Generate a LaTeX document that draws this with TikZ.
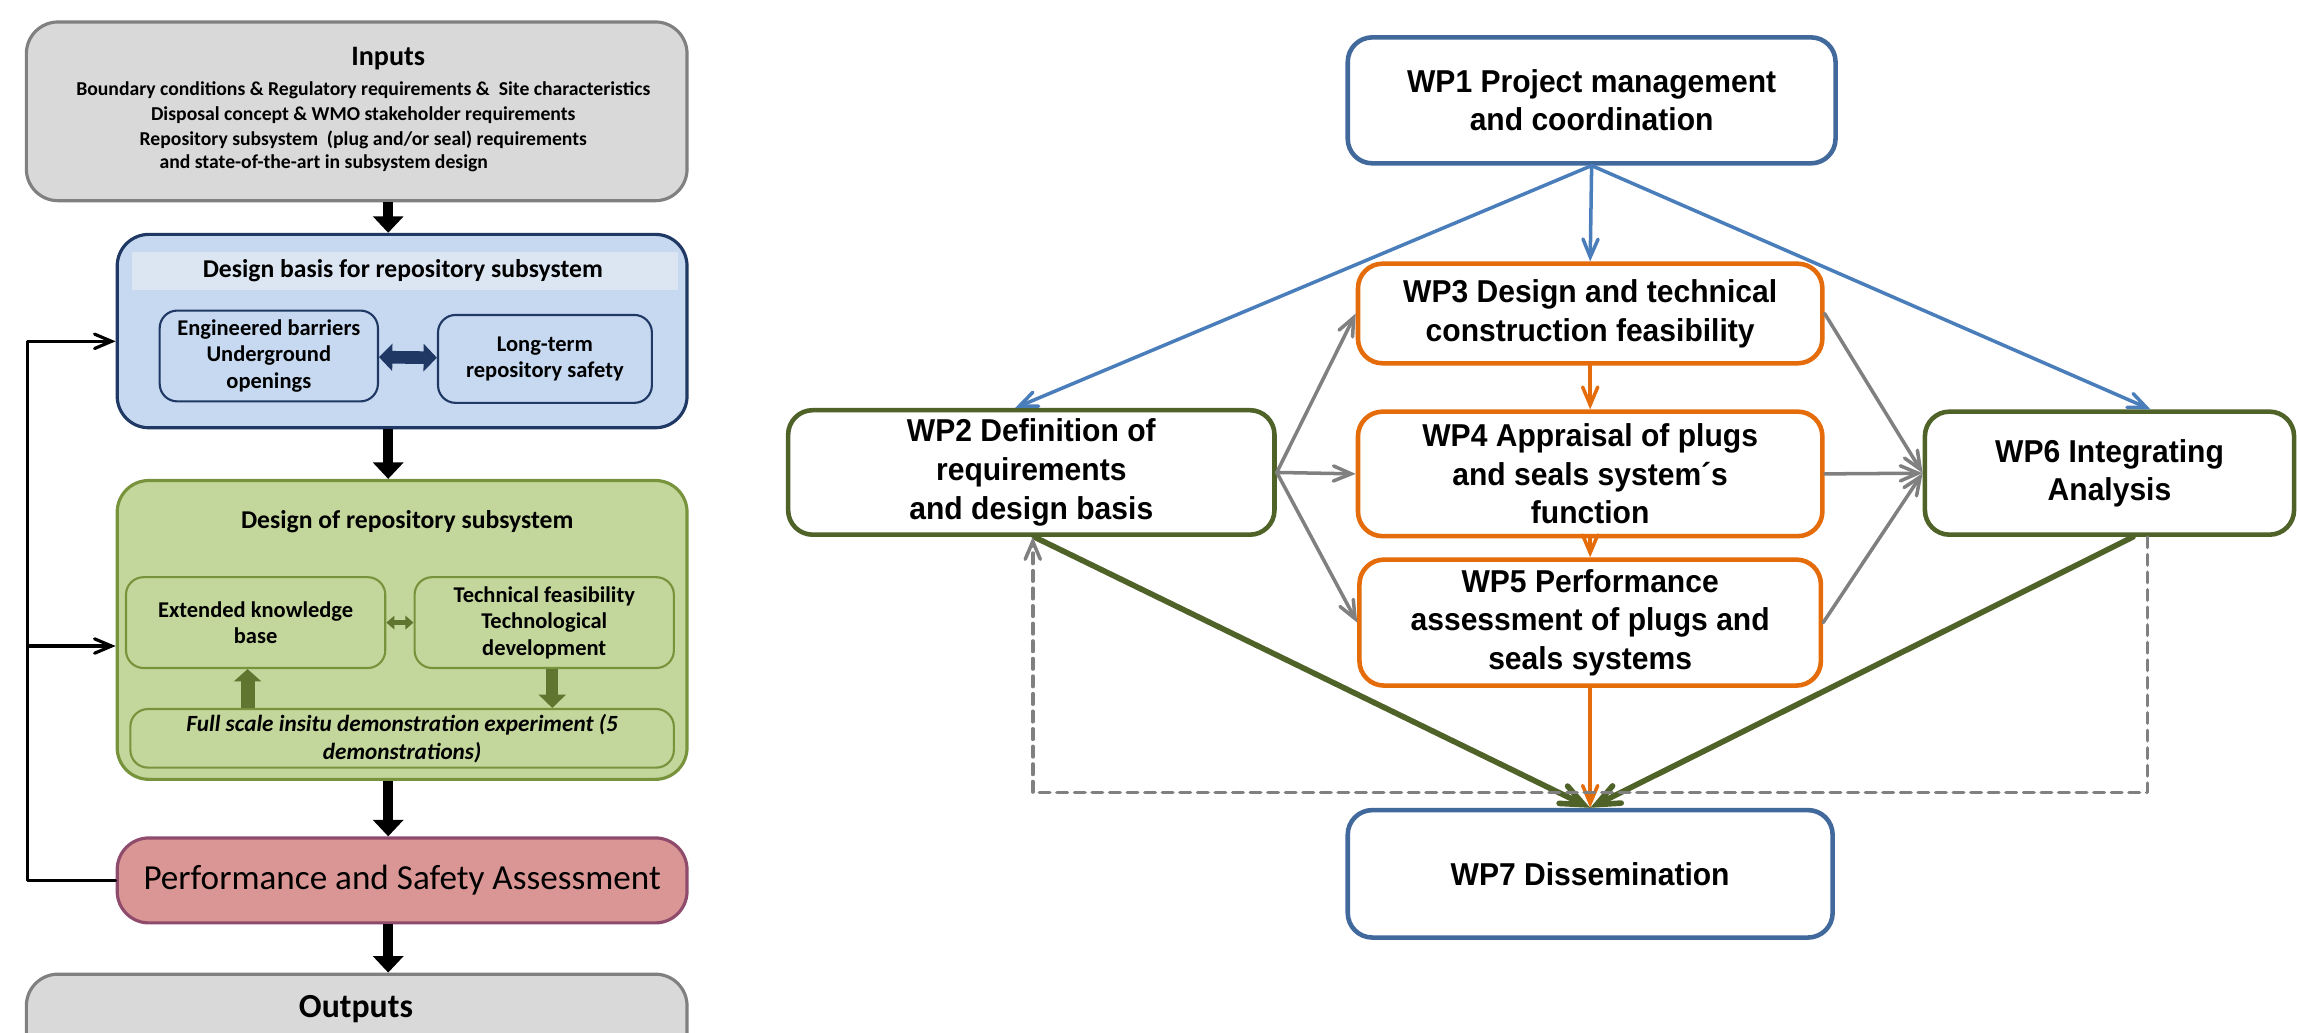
\documentclass[tikz,border=0pt]{standalone}
\usepackage{fontspec}
\setmainfont{Carlito}
\newfontfamily\wpfont[FakeStretch=0.95]{Liberation Sans}
\usetikzlibrary{arrows,arrows.meta}

\definecolor{ingray}{HTML}{D9D9D9}
\definecolor{inline}{HTML}{808080}
\definecolor{basisfill}{HTML}{C6D9F1}
\definecolor{basisband}{HTML}{DCE6F2}
\definecolor{basisline}{HTML}{1F3864}
\definecolor{designfill}{HTML}{C3D69B}
\definecolor{designline}{HTML}{77933C}
\definecolor{designarrow}{HTML}{5F7530}
\definecolor{perffill}{HTML}{D99694}
\definecolor{perfline}{HTML}{8E4B6B}
\definecolor{wpblue}{HTML}{41699C}
\definecolor{wparrowblue}{HTML}{4A7EBB}
\definecolor{wporange}{HTML}{E46C0A}
\definecolor{wpgreen}{HTML}{4F6228}
\definecolor{wpgray}{HTML}{808080}

\begin{document}
\begin{tikzpicture}[line cap=round,line join=round,>=angle 45,x=0.01465cm,y=-0.01465cm,
    boxsize/.style 2 args={minimum width=#1*0.01465cm,minimum height=#2*0.01465cm},
    leftbox/.style={draw,rounded corners=9pt,line width=0.9pt,inner sep=0pt},
    innerbox/.style={draw,rounded corners=5pt,line width=0.6pt,inner sep=0pt,align=center,font=\bfseries\fontsize{6.4}{7.5}\selectfont},
    blockarrow/.style={line width=2.9pt,-{Triangle[width=8.5pt,length=4.7pt]},line cap=butt},
    wpbox/.style={draw,rounded corners=7pt,line width=1.3pt,fill=white,inner sep=0pt,align=center,font=\wpfont\bfseries\fontsize{9}{11}\selectfont},
    wparrow/.style={line width=1pt,->}]
\useasboundingbox (0,0) rectangle (1568,705);
% left: design of the repository subsystem
\node[leftbox,draw=inline,fill=ingray,boxsize={451}{122}] (inputs) at (243.5,76) {};
\node[font=\bfseries\fontsize{8}{9}\selectfont] (inputstitle) at (265,40) {Inputs};
\node[align=center,font=\bfseries\fontsize{5.6}{7.1}\selectfont] (inputstext) at (248,78.5) {Boundary conditions \& Regulatory requirements \&\ \ Site characteristics\\Disposal concept \& WMO stakeholder requirements\\Repository subsystem\ \ (plug and/or seal) requirements};
\node[font=\bfseries\fontsize{5.6}{7}\selectfont] (inputslast) at (221,111.5) {and state-of-the-art in subsystem design};

\node[leftbox,draw=basisline,fill=basisfill,boxsize={389}{132}] (basis) at (274.5,226) {};
\node[fill=basisband,inner sep=0pt,boxsize={373}{26}] (band) at (276.5,185) {};
\node[font=\bfseries\fontsize{7.3}{8}\selectfont] (basistitle) at (275,185) {Design basis for repository subsystem};
\node[innerbox,draw=basisline,boxsize={149}{62}] (eb) at (183.5,243) {Engineered barriers\\Underground\\openings};
\node[innerbox,draw=basisline,boxsize={146}{60}] (lt) at (372,245) {Long-term\\repository safety};
\draw[line width=3.6pt,basisline,{Triangle[width=7.6pt,length=3.8pt]}-{Triangle[width=7.6pt,length=3.8pt]},line cap=butt] (eb) -- (lt);

\node[leftbox,draw=designline,fill=designfill,boxsize={389}{204}] (design) at (274.5,430) {};
\node[font=\bfseries\fontsize{7.3}{8}\selectfont] (designtitle) at (278,356) {Design of repository subsystem};
\node[innerbox,draw=designline,boxsize={177}{62}] (ekb) at (174.5,425) {Extended knowledge\\base};
\node[innerbox,draw=designline,boxsize={177}{62}] (tf) at (371.5,425) {Technical feasibility\\Technological\\development};
\node[innerbox,draw=designline,boxsize={371}{40},font=\bfseries\itshape\fontsize{6.6}{8}\selectfont] (full) at (274.5,504) {Full scale insitu demonstration experiment (5\\demonstrations)};
\draw[line width=1.4pt,designarrow,{Triangle[width=3.8pt,length=2.3pt]}-{Triangle[width=3.8pt,length=2.3pt]},line cap=butt] (ekb) -- (tf);
\draw[line width=4pt,designarrow,-{Triangle[width=7.6pt,length=3.5pt]},line cap=butt] (full.north -| 169,0) -- (ekb.south -| 169,0);
\draw[line width=3.4pt,designarrow,-{Triangle[width=7.6pt,length=3.8pt]},line cap=butt] (tf.south -| 377,0) -- (full.north -| 377,0);

\node[leftbox,draw=perfline,fill=perffill,boxsize={389}{58},font=\fontsize{10}{12}\selectfont] (perf) at (274.5,601) {Performance and Safety Assessment};
\node[leftbox,draw=inline,fill=ingray,boxsize={451}{80}] (outputs) at (243.5,705) {};
\node[font=\bfseries\fontsize{9.6}{11}\selectfont] (outputstitle) at (243,689) {Outputs};

\draw[blockarrow] (inputs.south -| 265,0) -- (basis.north -| 265,0);
\draw[blockarrow] (basis.south -| 265,0) -- (design.north -| 265,0);
\draw[blockarrow] (design.south -| 265,0) -- (perf.north -| 265,0);
\draw[blockarrow] (perf.south -| 265,0) -- (outputs.north -| 265,0);
\draw[line width=0.9pt,->] (perf.west) -| (19,233) -- (basis.west |- 19,233);
\draw[line width=0.9pt,->] (19,441) -- (design.west |- 19,441);

% right: work packages
\node[wpbox,draw=wpblue,boxsize={333}{86}] (wp1) at (1086.5,68.5) {WP1 Project management\\and coordination};
\node[wpbox,draw=wporange,boxsize={317}{68}] (wp3) at (1085.5,214) {WP3 Design and technical\\construction feasibility};
\node[wpbox,draw=wporange,boxsize={317}{85}] (wp4) at (1085.5,323.5) {WP4 Appraisal of plugs\\and seals system´s\\function};
\node[wpbox,draw=wporange,boxsize={315}{86}] (wp5) at (1085.5,425) {WP5 Performance\\assessment of plugs and\\seals systems};
\node[wpbox,draw=wpgreen,boxsize={332}{85}] (wp2) at (704,322.5) {WP2 Definition of\\requirements\\and design basis};
\node[wpbox,draw=wpgreen,boxsize={252}{84}] (wp6) at (1440,323) {WP6 Integrating\\Analysis};
\node[wpbox,draw=wpblue,boxsize={331}{87}] (wp7) at (1085.5,596.5) {WP7 Dissemination};

\draw[wparrow,wparrowblue] (wp1.south) -- (wp2.north -| 693,0);
\draw[wparrow,wparrowblue] (wp1.south) -- (wp3.north);
\draw[wparrow,wparrowblue] (wp1.south) -- (wp6.north -| 1468,0);
\draw[wparrow,wporange] (wp3) -- (wp4);
\draw[wparrow,wporange] (wp4) -- (wp5);
\draw[wparrow,wporange] (wp5) -- (wp7);
\draw[wparrow,wpgray] (wp2.east) -- (wp3.west);
\draw[wparrow,wpgray] (wp2.east) -- (wp4.west);
\draw[wparrow,wpgray] (wp2.east) -- (wp5.west);
\draw[wparrow,wpgray] (wp3.east) -- (wp6.west);
\draw[wparrow,wpgray] (wp4.east) -- (wp6.west);
\draw[wparrow,wpgray] (wp5.east) -- (wp6.west);
\draw[wparrow,wpgreen,line width=1.6pt] (wp2.south -| 706,0) -- (wp7.north);
\draw[wparrow,wpgreen,line width=1.6pt] (wp6.south -| 1456,0) -- (wp7.north);
\draw[wparrow,wpgray,dash pattern=on 3pt off 2pt] (wp6.south -| 1466,0) |- (705,541) -- (wp2.south -| 705,0);
\end{tikzpicture}
\end{document}
